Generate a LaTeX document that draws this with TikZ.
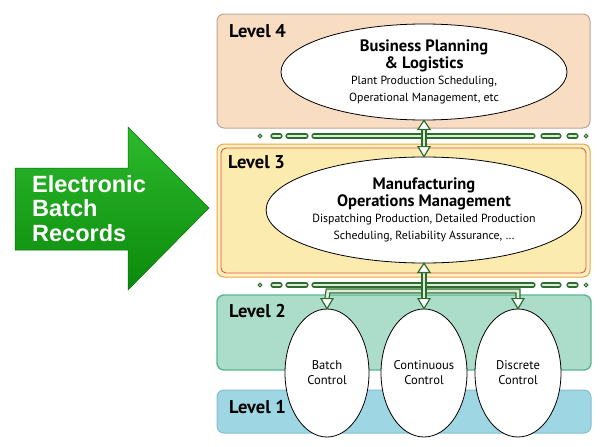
\documentclass[tikz,border=0pt]{standalone}
\usepackage{fontspec}
\setmainfont{PT Sans}
\newfontfamily\arialfont{Liberation Sans}
\usetikzlibrary{shapes.geometric,calc}
\definecolor{lfourfill}{HTML}{F9DDC3}
\definecolor{lfourdraw}{HTML}{B8A898}
\definecolor{lthreeout}{HTML}{F2A33A}
\definecolor{lthreered}{HTML}{E4553A}
\definecolor{lthreefill}{HTML}{FCEBAE}
\definecolor{ltwofill}{HTML}{ACDDCB}
\definecolor{ltwodraw}{HTML}{5DB593}
\definecolor{lonefill}{HTML}{9ED6E4}
\definecolor{lonedraw}{HTML}{86BFD0}
\definecolor{pipegreen}{HTML}{2E6B2E}
\definecolor{pipefill}{HTML}{DCEDD6}
\definecolor{arrowtop}{HTML}{2DBA2D}
\definecolor{arrowbot}{HTML}{0B8A0B}
\newcommand{\bigf}{\bfseries\fontsize{16.5}{18}\selectfont}
\newcommand{\subf}{\mdseries\fontsize{11.8}{14.5}\selectfont}
\tikzset{
  levelbox/.style={rounded corners=7pt, line width=1pt},
  lvl/.style={font=\bfseries\fontsize{18.5}{20}\selectfont, anchor=base west, inner sep=0pt},
  bigell/.style={ellipse, draw=black, line width=0.8pt, fill=white, inner sep=0pt, align=center,
     font=\fontsize{11.8}{16.5}\selectfont},
  smallell/.style={ellipse, draw=black, line width=0.8pt, fill=white, inner sep=0pt, align=center,
     minimum width=84pt, minimum height=128pt, font=\fontsize{12.6}{15}\selectfont},
  pipe/.style={draw=pipegreen, double=pipefill, double distance=2.8pt, line width=1.2pt},
  pill/.style={pipe, line cap=round},
  busdot/.style={draw=pipegreen, fill=pipefill, line width=1pt},
  arrowhd/.style={draw=pipegreen, fill=white, line width=1.2pt, line join=miter},
}
\newcommand{\busline}[1]{%
  \draw[busdot] (260,#1) circle (1.8pt);
  \draw[pill] (273,#1) -- (280,#1);
  \draw[pill] (288,#1) -- (306,#1);
  \draw[pill] (314,#1) -- (533,#1);
  \draw[pill] (543,#1) -- (559,#1);
  \draw[pill] (569,#1) -- (576,#1);
  \draw[busdot] (586,#1) circle (1.8pt);
}
\newcommand{\uphead}[1]{\draw[arrowhd] ($(#1)+(-6,9)$) -- (#1) -- ($(#1)+(6,9)$) -- cycle;}
\newcommand{\downhead}[1]{\draw[arrowhd] ($(#1)+(-6,-10)$) -- (#1) -- ($(#1)+(6,-10)$) -- cycle;}
\begin{document}
\begin{tikzpicture}[x=1pt,y=-1pt]
\useasboundingbox (0,0) rectangle (600,447);
\fill[white] (0,0) rectangle (600,447);

% level boxes
\draw[levelbox, fill=lfourfill, draw=lfourdraw] (217,14) rectangle (590,128);
\draw[levelbox, fill=lthreefill!70!white, draw=lthreeout] (217,144) rectangle (590,277);
\draw[rounded corners=5pt, line width=0.9pt, fill=lthreefill, draw=lthreered] (221,148) rectangle (586,273);
\draw[levelbox, fill=ltwofill, draw=ltwodraw, line width=1.4pt] (217,295) rectangle (591,370);
\draw[levelbox, fill=lonefill, draw=lonedraw] (217,390) rectangle (591,433);

\node[lvl] (lv4) at (229,37) {Level 4};
\node[lvl] (lv3) at (228,168) {Level 3};
\node[lvl] (lv2) at (229,317) {Level 2};
\node[lvl] (lv1) at (229,413) {Level 1};

% buses
\busline{136}
\busline{285}

% ellipses
\node[bigell, minimum width=286pt, minimum height=96pt] (e4) at (424,72)
  {\bigf Business Planning\\ \bigf \& Logistics\\ \subf Plant Production Scheduling,\\ \subf Operational Management, etc};
\node[bigell, minimum width=286pt, minimum height=106pt] (e3) at (424,210)
  {\bigf Manufacturing\\ \bigf Operations Management\\ \subf Dispatching Production, Detailed Production\\ \subf Scheduling, Reliability Assurance, \ldots};
\node[smallell] (bc) at (327,373) {Batch\\Control};
\node[smallell, minimum width=86pt] (cc) at (424,373) {Continuous\\Control};
\node[smallell, minimum width=86pt] (dc) at (518,373) {Discrete\\Control};

% connectors
\draw[pipe] ($(e4.south)+(0,8)$) -- ($(e3.north)+(0,-9)$);
\uphead{e4.south}
\downhead{e3.north}
\coordinate (jb) at (328,291);
\coordinate (jd) at (518,291);
\draw[pipe] ($(bc.north)+(0,-10)$) -- (jb) -- (jd) -- ($(dc.north)+(0,-10)$);
\draw[pipe] ($(e3.south)+(0,8)$) -- ($(cc.north)+(0,-10)$);
\uphead{e3.south}
\downhead{bc.north}
\downhead{cc.north}
\downhead{dc.north}

% big green arrow
\shade[top color=arrowtop, bottom color=arrowbot, draw=arrowbot!80!black, line width=0.5pt]
  (15,168) -- (128,168) -- (128,127) -- (209,208) -- (128,290) -- (128,250) -- (15,250) -- cycle;
\node[text=white, anchor=north west, align=left, inner sep=0pt,
  font=\arialfont\bfseries\fontsize{23.5}{24.5}\selectfont] (ebr) at (32,175)
  {Electronic\\Batch\\Records};
\end{tikzpicture}
\end{document}
